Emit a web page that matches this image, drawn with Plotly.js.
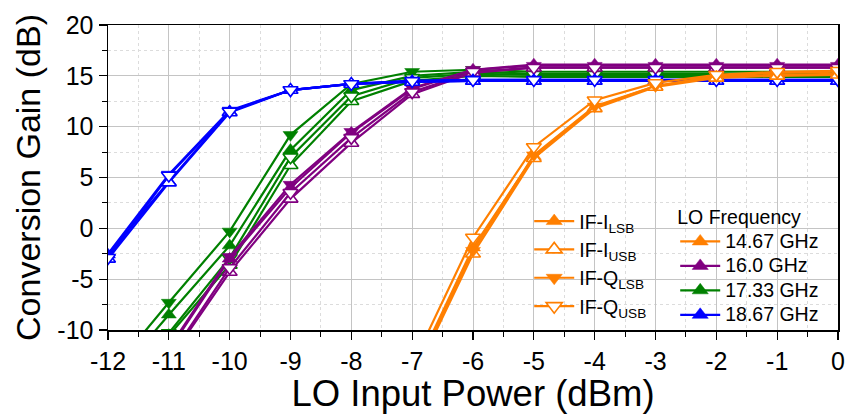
<!DOCTYPE html>
<html>
<head>
<meta charset="utf-8">
<script src="https://cdn.plot.ly/plotly-3.0.1.min.js"></script>
<style>html,body{margin:0;padding:0;background:#fff;}#chart{width:847px;height:414px;}</style>
</head>
<body>
<div id="chart"></div>
<script>
// LO input power (dBm)
const loPower = [-12, -11, -10, -9, -8, -7, -6, -5, -4, -3, -2, -1, 0];

// tick labels (plain hyphen minus, as in the reference)
const xTickVals = [-12, -11, -10, -9, -8, -7, -6, -5, -4, -3, -2, -1, 0];
const xTickText = ['-12', '-11', '-10', '-9', '-8', '-7', '-6', '-5', '-4', '-3', '-2', '-1', '0'];
const yTickVals = [-10, -5, 0, 5, 10, 15, 20];
const yTickText = ['-10', '-5', '0', '5', '10', '15', '20'];

// 14.67 GHz (orange)
const f1467_ILSB = [null, null, null, null, null, -14.5, -1.9, 7.1, 11.9, 14.0, 14.9, 15.1, 15.2];
const f1467_IUSB = [null, null, null, null, null, -15.0, -2.5, 6.9, 11.8, 13.9, 14.8, 15.0, 15.1];
const f1467_QLSB = [null, null, null, null, null, -14.8, -2.2, 7.2, 12.0, 14.0, 15.0, 15.3, 15.4];
const f1467_QUSB = [null, null, null, null, null, -13.5, -0.9, 8.0, 12.6, 14.3, 15.1, 15.4, 15.5];

// 16.0 GHz (purple)
const f1600_ILSB = [-20.0, -12.0, -3.0, 4.0, 9.4, 13.7, 15.6, 16.1, 16.1, 16.1, 16.1, 16.1, 16.1];
const f1600_IUSB = [-21.0, -13.0, -4.3, 2.9, 8.4, 13.2, 15.3, 15.8, 15.8, 15.8, 15.8, 15.8, 15.8];
const f1600_QLSB = [-20.0, -11.8, -2.8, 4.3, 9.5, 13.8, 15.6, 16.0, 16.0, 16.0, 16.0, 16.0, 16.0];
const f1600_QUSB = [-21.0, -12.8, -3.9, 3.5, 8.9, 13.4, 15.4, 15.8, 15.8, 15.8, 15.8, 15.8, 15.8];

// 17.33 GHz (green)
const f1733_ILSB = [-15.5, -8.5, -1.7, 7.7, 13.6, 15.0, 15.4, 15.2, 15.2, 15.2, 15.2, 15.2, 15.2];
const f1733_IUSB = [-17.5, -10.6, -3.6, 6.2, 12.5, 14.5, 15.0, 14.9, 14.9, 14.9, 14.9, 14.9, 14.9];
const f1733_QLSB = [-14.5, -7.3, -0.3, 9.2, 14.2, 15.4, 15.6, 15.4, 15.4, 15.4, 15.4, 15.4, 15.4];
const f1733_QUSB = [-17.0, -10.3, -2.9, 7.0, 13.0, 14.8, 15.2, 15.1, 15.1, 15.1, 15.1, 15.1, 15.1];

// 18.67 GHz (blue)
const f1867_ILSB = [-2.6, 4.6, 11.5, 13.6, 14.2, 14.4, 14.5, 14.5, 14.5, 14.5, 14.5, 14.5, 14.5];
const f1867_IUSB = [-3.0, 4.5, 11.4, 13.6, 14.2, 14.4, 14.5, 14.5, 14.5, 14.5, 14.5, 14.5, 14.5];
const f1867_QLSB = [-2.5, 5.3, 11.6, 13.6, 14.2, 14.5, 14.6, 14.6, 14.6, 14.6, 14.6, 14.6, 14.6];
const f1867_QUSB = [-2.9, 5.2, 11.5, 13.6, 14.2, 14.5, 14.6, 14.6, 14.6, 14.6, 14.6, 14.6, 14.6];

const outputNames = ['IF-I<sub>LSB</sub>', 'IF-I<sub>USB</sub>', 'IF-Q<sub>LSB</sub>', 'IF-Q<sub>USB</sub>'];
const freqNames = ['14.67 GHz', '16.0 GHz', '17.33 GHz', '18.67 GHz'];
const freqColors = ['#ff7f00', '#800080', '#008000', '#0000ff'];

const seriesByFreq = [
  [f1467_ILSB, f1467_IUSB, f1467_QLSB, f1467_QUSB],
  [f1600_ILSB, f1600_IUSB, f1600_QLSB, f1600_QUSB],
  [f1733_ILSB, f1733_IUSB, f1733_QLSB, f1733_QUSB],
  [f1867_ILSB, f1867_IUSB, f1867_QLSB, f1867_QUSB]
];

const symbols = ['triangle-up', 'triangle-up', 'triangle-down', 'triangle-down'];
const filled = [true, false, true, false];

function markerFor(k, color, size) {
  return {
    symbol: symbols[k],
    size: size,
    color: filled[k] ? color : '#ffffff',
    line: {color: color, width: filled[k] ? 0.5 : 1.6}
  };
}

const traces = [];
const drawOrder = [2, 1, 3, 0];
drawOrder.forEach(function (f) {
  for (let k = 0; k < 4; k++) {
    traces.push({
      type: 'scatter', mode: 'lines+markers',
      x: loPower, y: seriesByFreq[f][k],
      line: {color: freqColors[f], width: 2.2},
      marker: markerFor(k, freqColors[f], 13),
      cliponaxis: true,
      showlegend: false,
      name: freqNames[f] + ' ' + outputNames[k]
    });
  }
});

// legend 1: output types (orange)
for (let k = 0; k < 4; k++) {
  traces.push({
    type: 'scatter', mode: 'lines+markers', x: [null], y: [null],
    line: {color: freqColors[0], width: 2.2},
    marker: markerFor(k, freqColors[0], 14),
    name: outputNames[k], legend: 'legend', showlegend: true
  });
}
// legend 2: LO frequency (text a little larger than the row-spacing font)
for (let f = 0; f < 4; f++) {
  traces.push({
    type: 'scatter', mode: 'lines+markers', x: [null], y: [null],
    line: {color: freqColors[f], width: 2.2},
    marker: markerFor(0, freqColors[f], 14),
    name: '<span style="font-size:19.5px">' + freqNames[f] + '</span>',
    legend: 'legend2', showlegend: true
  });
}

const fontFam = '"Liberation Sans", Arial, Helvetica, sans-serif';

const layout = {
  width: 847, height: 414,
  margin: {l: 108, r: 9, t: 25, b: 84},
  paper_bgcolor: '#ffffff', plot_bgcolor: '#ffffff',
  font: {family: fontFam, color: '#000000'},
  showlegend: true,
  xaxis: {
    range: [-12, 0], tickmode: 'array', tickvals: xTickVals, ticktext: xTickText,
    showline: true, linecolor: '#000', linewidth: 1.5, mirror: true,
    ticks: 'outside', ticklen: 8, tickwidth: 1.2, tickcolor: '#000',
    showgrid: true, gridcolor: '#c4c4c4', gridwidth: 1,
    zeroline: false,
    minor: {dtick: 0.5, tick0: 0, ticks: 'outside', ticklen: 5, tickwidth: 1, tickcolor: '#000', showgrid: true, gridcolor: '#dcdcdc', griddash: 'dot', gridwidth: 1},
    tickfont: {size: 25, family: fontFam},
    title: {text: 'LO Input Power (dBm)', font: {size: 36.5, family: fontFam}, standoff: 0}
  },
  yaxis: {
    range: [-10, 20], tickmode: 'array', tickvals: yTickVals, ticktext: yTickText,
    showline: true, linecolor: '#000', linewidth: 1.5, mirror: true,
    ticks: 'outside', ticklen: 8, tickwidth: 1.2, tickcolor: '#000',
    showgrid: true, gridcolor: '#c4c4c4', gridwidth: 1,
    zeroline: false,
    minor: {dtick: 2.5, tick0: 0, ticks: 'outside', ticklen: 5, tickwidth: 1, tickcolor: '#000', showgrid: true, gridcolor: '#dcdcdc', griddash: 'dot', gridwidth: 1},
    tickfont: {size: 25, family: fontFam},
    title: {text: 'Conversion Gain (dB)', font: {size: 34, family: fontFam}, standoff: 6}
  },
  shapes: [
    {type: 'rect', xref: 'paper', yref: 'paper', x0: 0.565, x1: 0.755, y0: 0.02, y1: 0.44,
     fillcolor: '#ffffff', line: {width: 0}, layer: 'between'},
    {type: 'rect', xref: 'paper', yref: 'paper', x0: 0.77, x1: 0.995, y0: 0.02, y1: 0.44,
     fillcolor: '#ffffff', line: {width: 0}, layer: 'between'}
  ],
  legend: {
    x: 0.577, y: 0.42, xanchor: 'left', yanchor: 'top',
    bgcolor: 'rgba(0,0,0,0)', borderwidth: 0,
    font: {size: 19.5, family: fontFam},
    itemwidth: 40, tracegroupgap: 0
  },
  legend2: {
    x: 0.777, y: 0.43, xanchor: 'left', yanchor: 'top',
    bgcolor: 'rgba(0,0,0,0)', borderwidth: 0,
    font: {size: 16.5, family: fontFam},
    title: {text: 'LO Frequency', font: {size: 19.5, family: fontFam}},
    itemwidth: 40, tracegroupgap: 0
  }
};

Plotly.newPlot('chart', traces, layout, {displayModeBar: false, staticPlot: true});
</script>
</body>
</html>
